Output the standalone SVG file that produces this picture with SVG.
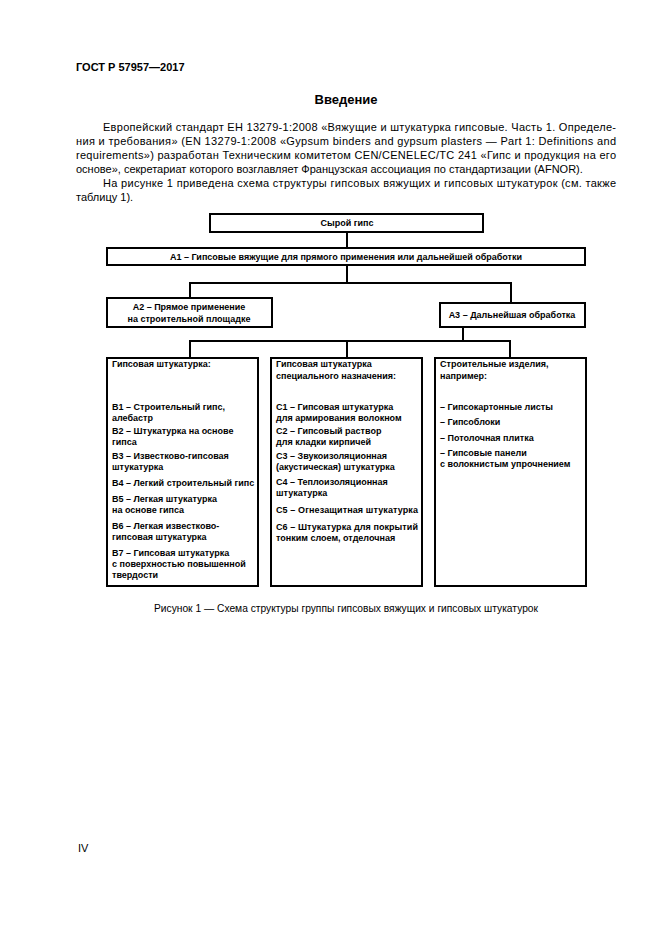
<svg xmlns="http://www.w3.org/2000/svg" width="661" height="935" viewBox="0 0 661 935">
<style>
.bg{fill:#fff}
.t{font-family:"Liberation Sans",Arial,sans-serif;fill:#000}
.p{font-size:11px}
.h{font-size:11px;font-weight:bold}
.ttl{font-size:13px;font-weight:bold}
.cap{font-size:10px}
.box{fill:#fff;stroke:#000;stroke-width:2}
.b{font-family:"Liberation Sans",Arial,sans-serif;font-size:9px;font-weight:bold;fill:#000}
.c{text-anchor:middle}
.ln{fill:none;stroke:#000;stroke-width:2}
</style>
<rect class="bg" x="0" y="0" width="661" height="935"/>
<text class="t h" x="76" y="71">ГОСТ Р 57957—2017</text>
<text class="t ttl c" x="346" y="104">Введение</text>
<text class="t p" x="103" y="131" textLength="513" lengthAdjust="spacing">Европейский стандарт ЕН 13279-1:2008 «Вяжущие и штукатурка гипсовые. Часть 1. Определе-</text>
<text class="t p" x="76" y="145" textLength="540" lengthAdjust="spacing">ния и требования» (EN 13279-1:2008 «Gypsum binders and gypsum plasters — Part 1: Definitions and</text>
<text class="t p" x="76" y="159" textLength="540" lengthAdjust="spacing">requirements») разработан Техническим комитетом CEN/CENELEC/TC 241 «Гипс и продукция на его</text>
<text class="t p" x="76" y="173">основе», секретариат которого возглавляет Французская ассоциация по стандартизации (AFNOR).</text>
<text class="t p" x="103" y="187" textLength="513" lengthAdjust="spacing">На рисунке 1 приведена схема структуры гипсовых вяжущих и гипсовых штукатурок (см. также</text>
<text class="t p" x="76" y="201">таблицу 1).</text>

<g id="connectors">
<path class="ln" d="M347 232V248"/>
<path class="ln" d="M347 265V283M190 283H511M190 282V298M511 282V303"/>
<path class="ln" d="M463 327V341M190 341H510M190 340V358M347 340V358M510 340V358"/>
</g>

<g id="raw">
<rect class="box" x="210" y="214" width="273" height="18"/>
<text class="b c" x="347" y="226">Сырой гипс</text>
</g>
<g id="a1">
<rect class="box" x="107" y="248" width="478" height="17"/>
<text class="b c" x="346" y="260">A1 – Гипсовые вяжущие для прямого применения или дальнейшей обработки</text>
</g>
<g id="a2">
<rect class="box" x="107" y="298" width="165" height="29"/>
<text class="b c" x="189" y="310">A2 – Прямое применение</text>
<text class="b c" x="189" y="322">на строительной площадке</text>
</g>
<g id="a3">
<rect class="box" x="440" y="303" width="145" height="24"/>
<text class="b c" x="512" y="318">A3 – Дальнейшая обработка</text>
</g>
<g id="b">
<rect class="box" x="107" y="358" width="151" height="228"/>
<text class="b" x="112" y="367">Гипсовая штукатурка:</text>
<text class="b" x="112" y="410">B1 – Строительный гипс,</text>
<text class="b" x="112" y="421">алебастр</text>
<text class="b" x="112" y="434">B2 – Штукатурка на основе</text>
<text class="b" x="112" y="445">гипса</text>
<text class="b" x="112" y="459">B3 – Известково-гипсовая</text>
<text class="b" x="112" y="470">штукатурка</text>
<text class="b" x="112" y="486">B4 – Легкий строительный гипс</text>
<text class="b" x="112" y="502">B5 – Легкая штукатурка</text>
<text class="b" x="112" y="513">на основе гипса</text>
<text class="b" x="112" y="529">B6 – Легкая известково-</text>
<text class="b" x="112" y="540">гипсовая штукатурка</text>
<text class="b" x="112" y="556">B7 – Гипсовая штукатурка</text>
<text class="b" x="112" y="567">с поверхностью повышенной</text>
<text class="b" x="112" y="578">твердости</text>
</g>
<g id="c">
<rect class="box" x="271" y="358" width="151" height="228"/>
<text class="b" x="276" y="367">Гипсовая штукатурка</text>
<text class="b" x="276" y="379">специального назначения:</text>
<text class="b" x="276" y="410">C1 – Гипсовая штукатурка</text>
<text class="b" x="276" y="421">для армирования волокном</text>
<text class="b" x="276" y="434">C2 – Гипсовый раствор</text>
<text class="b" x="276" y="445">для кладки кирпичей</text>
<text class="b" x="276" y="459">C3 – Звукоизоляционная</text>
<text class="b" x="276" y="470">(акустическая) штукатурка</text>
<text class="b" x="276" y="485">C4 – Теплоизоляционная</text>
<text class="b" x="276" y="496">штукатурка</text>
<text class="b" x="276" y="513" textLength="142" lengthAdjust="spacing">C5 – Огнезащитная штукатурка</text>
<text class="b" x="276" y="530" textLength="142" lengthAdjust="spacing">C6 – Штукатурка для покрытий</text>
<text class="b" x="276" y="541">тонким слоем, отделочная</text>
</g>
<g id="d">
<rect class="box" x="435" y="358" width="151" height="228"/>
<text class="b" x="440" y="367">Строительные изделия,</text>
<text class="b" x="440" y="379">например:</text>
<text class="b" x="440" y="410">– Гипсокартонные листы</text>
<text class="b" x="440" y="425">– Гипсоблоки</text>
<text class="b" x="440" y="441">– Потолочная плитка</text>
<text class="b" x="440" y="456">– Гипсовые панели</text>
<text class="b" x="440" y="467">с волокнистым упрочнением</text>
</g>

<text class="t cap c" x="346" y="612" textLength="384" lengthAdjust="spacingAndGlyphs">Рисунок 1 — Схема структуры группы гипсовых вяжущих и гипсовых штукатурок</text>
<text class="t p" x="78" y="852">IV</text>
</svg>
